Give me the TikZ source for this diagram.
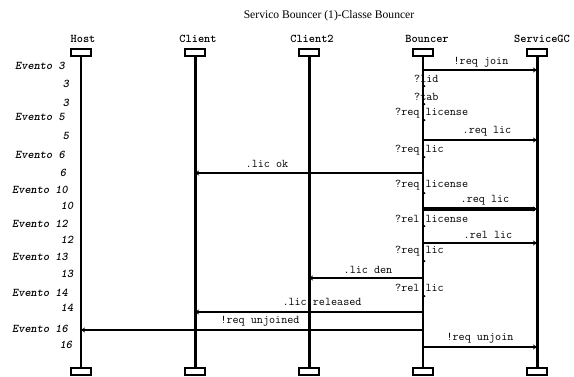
\documentclass[tikz,border=0pt]{standalone}
\usepackage{fontspec}
\setmainfont{Liberation Serif}
\usetikzlibrary{arrows.meta}
\begin{document}
\begin{tikzpicture}[x=1pt,y=-1pt,
  objbox/.style={draw, line width=2.2pt, minimum width=19.5pt, minimum height=6.5pt, inner sep=0pt},
  hdr/.style={font=\ttfamily\bfseries\fontsize{11.8}{13}\selectfont, inner sep=0pt},
  msg/.style={font=\ttfamily\fontsize{11.8}{13}\selectfont, inner sep=0pt},
  evt/.style={font=\ttfamily\bfseries\itshape\fontsize{11.8}{13}\selectfont, inner sep=0pt},
  thinlife/.style={line width=1.5pt},
  thicklife/.style={line width=3pt},
  arr/.style={line width=2.5pt, -{Stealth[length=4pt,width=5pt]}},
  dotmark/.style={fill, circle, inner sep=0pt, minimum size=2pt}
]
\useasboundingbox (0,0) rectangle (574,376);

% title
\node[font=\fontsize{11.6}{13}\selectfont, inner sep=0pt] (title) at (329,16) {Servico Bouncer (1)-Classe Bouncer};

% headers
\node[hdr] (hH) at (83,39) {Host};
\node[hdr] (hC) at (198,39) {Client};
\node[hdr] (hC2) at (312,39) {Client2};
\node[hdr] (hB) at (427,39) {Bouncer};
\node[hdr] (hS) at (542,39) {ServiceGC};

% top boxes
\node[objbox] (tH) at (81,52.5) {};
\node[objbox] (tC) at (195,52.5) {};
\node[objbox] (tC2) at (309,52.5) {};
\node[objbox] (tB) at (423,52.5) {};
\node[objbox] (tS) at (537,52.5) {};
% bottom boxes
\node[objbox] (bH) at (81,371.5) {};
\node[objbox] (bC) at (195,371.5) {};
\node[objbox] (bC2) at (309,371.5) {};
\node[objbox] (bB) at (423,371.5) {};
\node[objbox] (bS) at (537,371.5) {};

% lifelines
\draw[thinlife] (tH.south) -- (bH.north);
\draw[thicklife] (tC.south) -- (bC.north);
\draw[thicklife] (tC2.south) -- (bC2.north);
\draw[thinlife] (tB.south) -- (bB.north);
\draw[thicklife] (tS.south) -- (bS.north);

% message end points
\coordinate (m1a) at (423,70);  \coordinate (m1b) at (537,70);
\coordinate (m2a) at (423,140); \coordinate (m2b) at (537,140);
\coordinate (m3a) at (423,173); \coordinate (m3b) at (195,173);
\coordinate (m4a) at (423,209); \coordinate (m4b) at (537,209);
\coordinate (m5a) at (423,243); \coordinate (m5b) at (537,243);
\coordinate (m6a) at (423,278); \coordinate (m6b) at (309,278);
\coordinate (m7a) at (423,312); \coordinate (m7b) at (195,312);
\coordinate (m8a) at (423,330); \coordinate (m8b) at (81,330);
\coordinate (m9a) at (423,347); \coordinate (m9b) at (537,347);

\draw[arr] (m1a) -- (m1b);
\draw[arr] (m2a) -- (m2b);
\draw[arr] (m3a) -- (m3b);
\draw[arr, line width=3.3pt] (m4a) -- (m4b);
\draw[arr] (m5a) -- (m5b);
\draw[arr] (m6a) -- (m6b);
\draw[arr] (m7a) -- (m7b);
\draw[arr] (m8a) -- (m8b);
\draw[arr] (m9a) -- (m9b);

% message labels
\node[msg] (l1) at (481,62) {!req join};
\node[msg] (l2) at (487,131) {.req lic};
\node[msg] (l3) at (267,164) {.lic ok};
\node[msg] (l4) at (485,200) {.req lic};
\node[msg] (l5) at (488,235) {.rel lic};
\node[msg] (l6) at (368,270) {.lic den};
\node[msg] (l7) at (322,302) {.lic released};
\node[msg] (l8) at (260,321) {!req unjoined};
\node[msg] (l9) at (480,338) {!req unjoin};

% receive labels at Bouncer
\node[msg, anchor=west] (r1) at (414,79) {?lid};
\node[msg, anchor=west] (r2) at (414,97) {?tab};
\node[msg, anchor=west] (r3) at (395,113) {?req license};
\node[msg, anchor=west] (r4) at (395,150) {?req lic};
\node[msg, anchor=west] (r5) at (395,185) {?req license};
\node[msg, anchor=west] (r6) at (395,219) {?rel license};
\node[msg, anchor=west] (r7) at (395,251) {?req lic};
\node[msg, anchor=west] (r8) at (395,288) {?rel lic};

% small marks on Bouncer lifeline
\foreach \yy [count=\i] in {86,104,120,157,193,226,261,296}
  \node[dotmark] (d\i) at (424.5,\yy) {};

% event labels
\node[evt] (e1) at (40,66) {Evento 3};
\node[evt] (n1) at (66,84) {3};
\node[evt] (n2) at (66,103) {3};
\node[evt] (e2) at (40,117) {Evento 5};
\node[evt] (n3) at (66,136) {5};
\node[evt] (e3) at (40,155) {Evento 6};
\node[evt] (n4) at (63,173) {6};
\node[evt] (e4) at (40,190) {Evento 10};
\node[evt] (n5) at (67,206) {10};
\node[evt] (e5) at (40,224) {Evento 12};
\node[evt] (n6) at (67,240) {12};
\node[evt] (e6) at (40,257) {Evento 13};
\node[evt] (n7) at (67,274) {13};
\node[evt] (e7) at (40,293) {Evento 14};
\node[evt] (n8) at (67,308) {14};
\node[evt] (e8) at (40,329) {Evento 16};
\node[evt] (n9) at (66,345) {16};
\end{tikzpicture}
\end{document}
